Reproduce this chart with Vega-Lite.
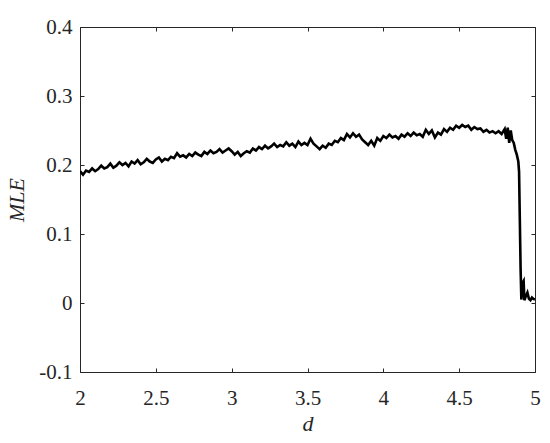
{
  "$schema": "https://vega.github.io/schema/vega-lite/v6.json",
  "width": 455,
  "height": 345,
  "autosize": "none",
  "padding": {"left": 80, "top": 27, "right": 15, "bottom": 71},
  "background": "white",
  "config": {
    "view": {"stroke": "#262626", "strokeWidth": 1},
    "font": "Liberation Serif",
    "axis": {
      "labelFont": "Liberation Serif",
      "titleFont": "Liberation Serif",
      "labelFontSize": 21,
      "titleFontSize": 22,
      "labelColor": "#262626",
      "titleColor": "#262626",
      "domainColor": "#262626",
      "tickColor": "#262626",
      "grid": false,
      "tickSize": -4,
      "titleFontWeight": "normal",
      "titleFontStyle": "italic"
    }
  },
  "data": {"values": [
    {"d":2.00,"mle":0.191},{"d":2.02,"mle":0.186},{"d":2.04,"mle":0.192},{"d":2.06,"mle":0.190},{"d":2.08,"mle":0.195},
    {"d":2.10,"mle":0.191},{"d":2.12,"mle":0.194},{"d":2.14,"mle":0.199},{"d":2.16,"mle":0.195},{"d":2.18,"mle":0.197},
    {"d":2.20,"mle":0.202},{"d":2.22,"mle":0.196},{"d":2.24,"mle":0.199},{"d":2.26,"mle":0.204},{"d":2.28,"mle":0.200},
    {"d":2.30,"mle":0.203},{"d":2.32,"mle":0.198},{"d":2.34,"mle":0.205},{"d":2.36,"mle":0.202},{"d":2.38,"mle":0.207},
    {"d":2.40,"mle":0.201},{"d":2.42,"mle":0.204},{"d":2.44,"mle":0.209},{"d":2.46,"mle":0.205},{"d":2.48,"mle":0.203},
    {"d":2.50,"mle":0.208},{"d":2.52,"mle":0.211},{"d":2.54,"mle":0.205},{"d":2.56,"mle":0.209},{"d":2.58,"mle":0.207},
    {"d":2.60,"mle":0.212},{"d":2.62,"mle":0.210},{"d":2.64,"mle":0.217},{"d":2.66,"mle":0.212},{"d":2.68,"mle":0.214},
    {"d":2.70,"mle":0.211},{"d":2.72,"mle":0.216},{"d":2.74,"mle":0.213},{"d":2.76,"mle":0.218},{"d":2.78,"mle":0.215},
    {"d":2.80,"mle":0.213},{"d":2.82,"mle":0.219},{"d":2.84,"mle":0.216},{"d":2.86,"mle":0.221},{"d":2.88,"mle":0.217},
    {"d":2.90,"mle":0.219},{"d":2.92,"mle":0.223},{"d":2.94,"mle":0.218},{"d":2.96,"mle":0.221},{"d":2.98,"mle":0.224},
    {"d":3.00,"mle":0.220},{"d":3.02,"mle":0.215},{"d":3.04,"mle":0.219},{"d":3.06,"mle":0.213},{"d":3.08,"mle":0.217},
    {"d":3.10,"mle":0.220},{"d":3.12,"mle":0.218},{"d":3.14,"mle":0.224},{"d":3.16,"mle":0.221},{"d":3.18,"mle":0.226},
    {"d":3.20,"mle":0.223},{"d":3.22,"mle":0.228},{"d":3.24,"mle":0.224},{"d":3.26,"mle":0.227},{"d":3.28,"mle":0.231},
    {"d":3.30,"mle":0.226},{"d":3.32,"mle":0.229},{"d":3.34,"mle":0.227},{"d":3.36,"mle":0.233},{"d":3.38,"mle":0.228},
    {"d":3.40,"mle":0.231},{"d":3.42,"mle":0.226},{"d":3.44,"mle":0.234},{"d":3.46,"mle":0.229},{"d":3.48,"mle":0.232},
    {"d":3.50,"mle":0.229},{"d":3.52,"mle":0.238},{"d":3.54,"mle":0.231},{"d":3.56,"mle":0.227},{"d":3.58,"mle":0.223},
    {"d":3.60,"mle":0.228},{"d":3.62,"mle":0.225},{"d":3.64,"mle":0.231},{"d":3.66,"mle":0.229},{"d":3.68,"mle":0.235},
    {"d":3.70,"mle":0.233},{"d":3.72,"mle":0.239},{"d":3.74,"mle":0.236},{"d":3.76,"mle":0.245},{"d":3.78,"mle":0.240},
    {"d":3.80,"mle":0.246},{"d":3.82,"mle":0.241},{"d":3.84,"mle":0.244},{"d":3.86,"mle":0.237},{"d":3.88,"mle":0.233},
    {"d":3.90,"mle":0.229},{"d":3.92,"mle":0.235},{"d":3.94,"mle":0.228},{"d":3.96,"mle":0.239},{"d":3.98,"mle":0.235},
    {"d":4.00,"mle":0.242},{"d":4.02,"mle":0.239},{"d":4.04,"mle":0.244},{"d":4.06,"mle":0.240},{"d":4.08,"mle":0.242},
    {"d":4.10,"mle":0.238},{"d":4.12,"mle":0.244},{"d":4.14,"mle":0.241},{"d":4.16,"mle":0.246},{"d":4.18,"mle":0.242},
    {"d":4.20,"mle":0.247},{"d":4.22,"mle":0.243},{"d":4.24,"mle":0.245},{"d":4.26,"mle":0.241},{"d":4.28,"mle":0.251},
    {"d":4.30,"mle":0.245},{"d":4.32,"mle":0.250},{"d":4.34,"mle":0.240},{"d":4.36,"mle":0.247},{"d":4.38,"mle":0.244},
    {"d":4.40,"mle":0.252},{"d":4.42,"mle":0.248},{"d":4.44,"mle":0.254},{"d":4.46,"mle":0.251},{"d":4.48,"mle":0.257},
    {"d":4.50,"mle":0.254},{"d":4.52,"mle":0.258},{"d":4.54,"mle":0.255},{"d":4.56,"mle":0.257},{"d":4.58,"mle":0.251},
    {"d":4.60,"mle":0.255},{"d":4.62,"mle":0.252},{"d":4.64,"mle":0.253},{"d":4.66,"mle":0.248},{"d":4.68,"mle":0.251},
    {"d":4.70,"mle":0.247},{"d":4.72,"mle":0.249},{"d":4.74,"mle":0.246},{"d":4.76,"mle":0.249},{"d":4.78,"mle":0.245},
    {"d":4.80,"mle":0.252},{"d":4.81,"mle":0.238},{"d":4.82,"mle":0.254},{"d":4.83,"mle":0.232},{"d":4.84,"mle":0.250},
    {"d":4.85,"mle":0.236},{"d":4.86,"mle":0.232},{"d":4.87,"mle":0.222},{"d":4.88,"mle":0.215},{"d":4.89,"mle":0.205},
    {"d":4.895,"mle":0.190},{"d":4.90,"mle":0.120},{"d":4.905,"mle":0.050},{"d":4.91,"mle":0.005},{"d":4.92,"mle":0.030},
    {"d":4.925,"mle":0.032},{"d":4.93,"mle":0.004},{"d":4.94,"mle":0.010},{"d":4.95,"mle":0.015},{"d":4.96,"mle":0.006},
    {"d":4.97,"mle":0.004},{"d":4.98,"mle":0.008},{"d":4.99,"mle":0.006},{"d":5.00,"mle":0.005}
  ]},
  "layer": [
    {
      "mark": {"type": "line", "color": "black", "strokeWidth": 2.6, "clip": true},
      "encoding": {
        "x": {"field": "d", "type": "quantitative",
          "scale": {"domain": [2, 5], "nice": false, "zero": false},
          "axis": {"orient": "bottom", "title": "d", "values": [2, 2.5, 3, 3.5, 4, 4.5, 5],
            "labelExpr": "format(datum.value, '~g')", "labelPadding": 19, "titlePadding": 5,
            "labelFlush": false, "domain": false}},
        "y": {"field": "mle", "type": "quantitative",
          "scale": {"domain": [-0.1, 0.4], "nice": false, "zero": false},
          "axis": {"orient": "left", "title": "MLE", "values": [-0.1, 0, 0.1, 0.2, 0.3, 0.4],
            "labelExpr": "datum.value == 0 ? '0' : replace(format(datum.value, '.1f'), '\u2212', '-')",
            "labelPadding": 12, "titlePadding": 10, "labelFlush": false, "domain": false}}
      }
    },
    {
      "mark": {"type": "line", "opacity": 0},
      "encoding": {
        "x": {"field": "d", "type": "quantitative",
          "scale": {"domain": [2, 5], "nice": false, "zero": false},
          "axis": {"orient": "top", "title": null, "labels": false, "domain": false,
            "values": [2, 2.5, 3, 3.5, 4, 4.5, 5]}},
        "y": {"field": "mle", "type": "quantitative",
          "scale": {"domain": [-0.1, 0.4], "nice": false, "zero": false},
          "axis": {"orient": "right", "title": null, "labels": false, "domain": false,
            "values": [-0.1, 0, 0.1, 0.2, 0.3, 0.4]}}
      }
    }
  ],
  "resolve": {"axis": {"x": "independent", "y": "independent"}}
}
